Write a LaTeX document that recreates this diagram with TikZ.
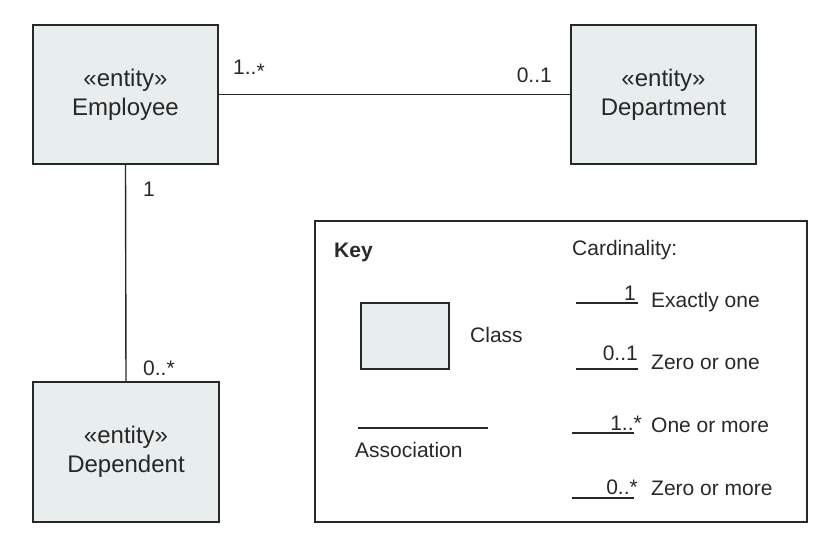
\documentclass[tikz,border=0pt]{standalone}
\usepackage{fontspec}
\setmainfont{Liberation Sans}
\definecolor{boxfill}{RGB}{232,237,237}
\definecolor{ink}{RGB}{40,40,40}
\begin{document}
\begin{tikzpicture}[x=1pt,y=-1pt,
  classbox/.style={draw=ink,fill=boxfill,line width=1.4pt,inner sep=0pt,align=center,
    font=\fontsize{24}{29}\selectfont,text=ink},
  lbl/.style={inner sep=0pt,font=\fontsize{21}{25}\selectfont,text=ink},
  assoc/.style={draw=ink,line width=1.4pt}]
\useasboundingbox (0,0) rectangle (828,546);
% classes
\node[classbox,minimum width=185pt,minimum height=139pt] (emp) at (125.5,94.5) {«entity»\\Employee};
\node[classbox,minimum width=185pt,minimum height=139pt] (dept) at (663.5,94.5) {«entity»\\Department};
\node[classbox,minimum width=186pt,minimum height=140pt] (dep) at (126,452) {«entity»\\Dependent};
% associations
\draw[assoc] (emp.east) -- (dept.west);
\draw[assoc] (emp.south) -- (dep.north);
% multiplicities
\node[lbl,anchor=base west] (m1) at (233,74) {1..\raisebox{-0.4ex}{*}};
\node[lbl,anchor=base east] (m2) at (552,82) {0..1};
\node[lbl,anchor=base west] (m3) at (143,196) {1};
\node[lbl,anchor=base west] (m4) at (143,375) {0..*};
% key
\node[draw=ink,line width=1.2pt,minimum width=492pt,minimum height=301pt,inner sep=0pt] (key) at (561,371.5) {};
\node[lbl,anchor=base west,font=\fontsize{21}{25}\selectfont\bfseries] (keyt) at (334,257) {Key};
\node[lbl,anchor=base west] (cardt) at (572,255) {Cardinality:};
\node[draw=ink,fill=boxfill,line width=1.2pt,minimum width=88pt,minimum height=66pt,inner sep=0pt] (cls) at (405,336) {};
\node[lbl,anchor=base west] (clst) at (470,342) {Class};
\coordinate (a1) at (358,428);
\coordinate (a2) at (488,428);
\draw[assoc,line width=1.2pt] (a1) -- (a2);
\node[lbl,anchor=base west] (asst) at (355,457) {Association};
% cardinality rows
\coordinate (c1a) at (576,303); \coordinate (c1b) at (638,303);
\draw[assoc,line width=1.2pt] (c1a) -- (c1b);
\node[lbl,anchor=base east] (c1l) at (636,300) {1};
\node[lbl,anchor=base west] (c1t) at (651,307) {Exactly one};
\coordinate (c2a) at (576,369); \coordinate (c2b) at (638,369);
\draw[assoc,line width=1.2pt] (c2a) -- (c2b);
\node[lbl,anchor=base east] (c2l) at (638,360) {0..1};
\node[lbl,anchor=base west] (c2t) at (651,369) {Zero or one};
\coordinate (c3a) at (572,433); \coordinate (c3b) at (634,433);
\draw[assoc,line width=1.2pt] (c3a) -- (c3b);
\node[lbl,anchor=base east] (c3l) at (642,430) {1..*};
\node[lbl,anchor=base west] (c3t) at (651,432) {One or more};
\coordinate (c4a) at (572,498); \coordinate (c4b) at (634,498);
\draw[assoc,line width=1.2pt] (c4a) -- (c4b);
\node[lbl,anchor=base east] (c4l) at (638,494) {0..*};
\node[lbl,anchor=base west] (c4t) at (651,495) {Zero or more};
\end{tikzpicture}
\end{document}
